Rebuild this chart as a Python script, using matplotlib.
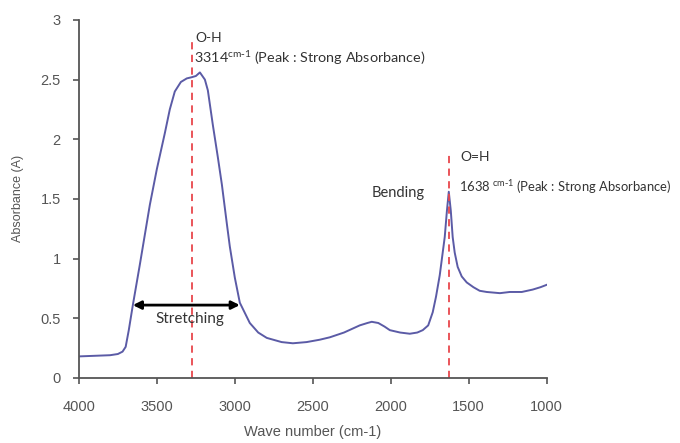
import matplotlib
matplotlib.use('Agg')
import matplotlib.pyplot as plt

# spectrum (wave number, absorbance)
wavenumber = [4000, 3900, 3800, 3750, 3720, 3700, 3680, 3654, 3609, 3545, 3500,
              3449, 3417, 3385, 3346, 3308, 3276, 3250, 3224, 3192, 3173, 3141,
              3109, 3083, 3050, 3032, 3000, 2968, 2904, 2850, 2795, 2700, 2628,
              2540, 2455, 2391, 2300, 2199, 2150, 2122, 2080, 2040, 2006, 1940,
              1878, 1830, 1795, 1760, 1731, 1710, 1686, 1654, 1640, 1628, 1615,
              1603, 1590, 1571, 1545, 1513, 1470, 1430, 1385, 1300, 1237, 1160,
              1090, 1040, 1000]
absorbance = [0.18, 0.185, 0.19, 0.2, 0.22, 0.26, 0.40, 0.61, 0.95, 1.45, 1.75,
              2.05, 2.25, 2.40, 2.48, 2.51, 2.52, 2.53, 2.56, 2.50, 2.41, 2.12,
              1.85, 1.62, 1.28, 1.10, 0.84, 0.63, 0.46, 0.38, 0.335, 0.30, 0.29,
              0.30, 0.32, 0.34, 0.38, 0.44, 0.46, 0.47, 0.46, 0.43, 0.40, 0.38,
              0.37, 0.38, 0.40, 0.44, 0.55, 0.68, 0.86, 1.18, 1.40, 1.56, 1.40,
              1.18, 1.05, 0.93, 0.85, 0.80, 0.76, 0.73, 0.72, 0.71, 0.72, 0.72,
              0.74, 0.76, 0.78]

peaks = [3276, 1628]
peak_tops = [2.82, 1.89]
stretch_span = [3654, 2968]
stretch_y = 0.61

xticks = [4000, 3500, 3000, 2500, 2000, 1500, 1000]
yticks = [0, 0.5, 1, 1.5, 2, 2.5, 3]

fig = plt.figure(figsize=(6.8, 4.43), dpi=100)
ax = fig.add_axes([0.116, 0.147, 0.688, 0.808])

ax.plot(wavenumber, absorbance, color='#5b5ba6', lw=1.4)

for x, top in zip(peaks, peak_tops):
    ax.plot([x, x], [0, top], color='#e8474c', lw=1.3, ls=(0, (4, 3)))

ax.annotate('', xy=(stretch_span[1], stretch_y), xytext=(stretch_span[0], stretch_y),
            arrowprops=dict(arrowstyle='<|-|>', color='black', lw=2,
                            mutation_scale=12, shrinkA=0, shrinkB=0))

txt = dict(family='Lato', color='#333333')
ax.text(3285, 0.49, 'Stretching', ha='center', va='center', fontsize=11, **txt)
ax.text(3250, 2.85, 'O-H', ha='left', va='center', fontsize=10, **txt)
ax.text(3262, 2.68, r'3314$^{\mathregular{cm\text{-}1}}$ (Peak : Strong Absorbance)',
        ha='left', va='center', fontsize=10.4, **txt)
ax.text(1555, 1.85, 'O=H', ha='left', va='center', fontsize=10, **txt)
ax.text(1565, 1.6, r'1638$^{\mathregular{\ cm\text{-}1}}$ (Peak : Strong Absorbance)',
        ha='left', va='center', fontsize=9.4, **txt)
ax.text(1782, 1.55, 'Bending', ha='right', va='center', fontsize=10.5, **txt)

ax.set_xlim(4000, 1000)
ax.set_ylim(0, 3)
ax.set_xticks(xticks)
ax.set_yticks(yticks)
ax.set_yticklabels(['0', '0.5', '1', '1.5', '2', '2.5', '3'])

for side in ['top', 'right']:
    ax.spines[side].set_visible(False)
for side in ['left', 'bottom']:
    ax.spines[side].set_color('#555555')
    ax.spines[side].set_linewidth(1.3)

ax.tick_params(colors='#555555', labelcolor='#555555', labelsize=10.5, length=4, width=1.2)
ax.tick_params(axis='x', pad=12)
ax.tick_params(axis='y', pad=9)
for lab in ax.get_xticklabels() + ax.get_yticklabels():
    lab.set_family('Liberation Sans')

ax.set_xlabel('Wave number (cm-1)', family='Liberation Sans', color='#555555', fontsize=10.5)
ax.set_ylabel('Absorbance (A)', family='Liberation Sans', color='#555555', fontsize=9)
ax.xaxis.labelpad = 8
ax.yaxis.labelpad = 12

fig.savefig('out.png', dpi=100)
